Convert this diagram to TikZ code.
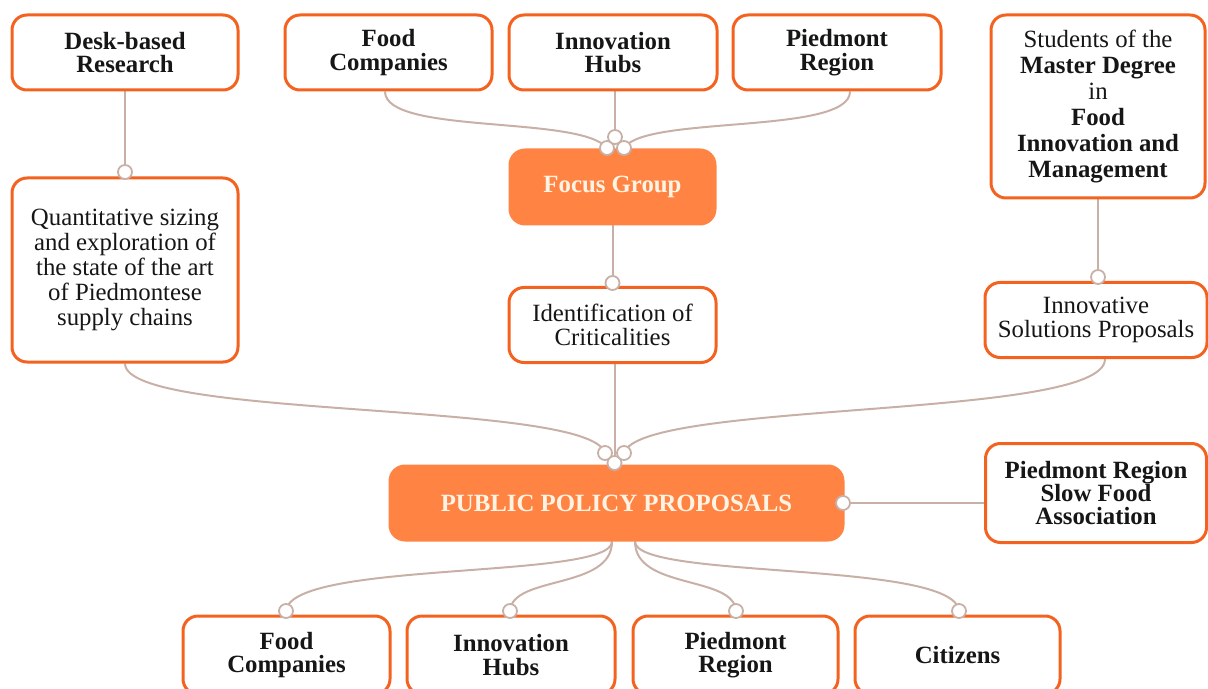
\documentclass[tikz,border=0pt]{standalone}
\usepackage{fontspec}
\setmainfont{Liberation Serif}
\usetikzlibrary{backgrounds}
\definecolor{borderor}{HTML}{F4621F}
\definecolor{fillor}{HTML}{FF8444}
\definecolor{linktan}{HTML}{C8B0A7}
\definecolor{txtlight}{HTML}{FFF4E4}
\definecolor{txtdark}{HTML}{161616}
\tikzset{
  box/.style={draw=borderor, line width=1.5pt, fill=white, rounded corners=7.5pt,
    align=center, inner sep=2pt, text=txtdark,
    font=\fontsize{12.4}{11.8}\selectfont},
  boldbox/.style={box, font=\fontsize{12.4}{11.8}\selectfont\bfseries},
  filledbox/.style={box, draw=fillor, fill=fillor, text=txtlight,
    font=\fontsize{12.4}{11.8}\selectfont\bfseries},
  knob/.style={circle, draw=linktan, line width=0.9pt, fill=white,
    minimum size=7pt, inner sep=0pt},
  link/.style={draw=linktan, line width=1pt}
}
\begin{document}
\begin{tikzpicture}[x=0.5pt, y=-0.5pt]
\useasboundingbox (0,0) rectangle (1208,689);
% boxes
\node[boldbox, minimum width=113pt, minimum height=37.5pt] (desk) at (125,52.5) {Desk-based\\Research};
\node[boldbox, minimum width=103.5pt, minimum height=37.5pt] (fc1) at (388.5,52.5) {Food\\Companies};
\node[boldbox, minimum width=104pt, minimum height=37.5pt] (ih1) at (613,52.5) {Innovation\\Hubs};
\node[boldbox, minimum width=104pt, minimum height=37.5pt] (pr1) at (837,52.5) {Piedmont\\Region};
\node[box, minimum width=107pt, minimum height=91.5pt, font=\fontsize{12.4}{13}\selectfont] (stud) at (1098,106.5)
  {Students of the\\\textbf{Master Degree}\\in\\\textbf{Food}\\\textbf{Innovation and}\\\textbf{Management}};
\node[filledbox, minimum width=102.5pt, minimum height=37pt] (focus) at (612.5,187) {Focus Group};
\node[box, minimum width=113pt, minimum height=92pt, font=\fontsize{12.4}{12.6}\selectfont] (quant) at (125,270)
  {Quantitative sizing\\and exploration of\\the state of the art\\of Piedmontese\\supply chains};
\node[box, minimum width=103.5pt, minimum height=37.5pt] (ident) at (612.5,325) {Identification of\\Criticalities};
\node[box, minimum width=111pt, minimum height=37.5pt] (innov) at (1096,320) {Innovative\\Solutions Proposals};
\node[filledbox, minimum width=226.5pt, minimum height=37pt] (ppp) at (616.5,503) {PUBLIC POLICY PROPOSALS};
\node[boldbox, minimum width=110.5pt, minimum height=49.5pt, font=\fontsize{12.4}{11.6}\selectfont\bfseries] (slow) at (1096,493)
  {Piedmont Region\\Slow Food\\Association};
\node[boldbox, minimum width=103.5pt, minimum height=39pt] (fc2) at (286.5,655) {Food\\Companies};
\node[boldbox, minimum width=104pt, minimum height=39pt] (ih2) at (511,655) {Innovation\\Hubs};
\node[boldbox, minimum width=102.5pt, minimum height=39pt] (pr2) at (735.5,655) {Piedmont\\Region};
\node[boldbox, minimum width=102.5pt, minimum height=39pt] (cit) at (957.5,655) {Citizens};
% knobs
\node[knob] (kquant) at (125,172) {};
\node[knob] (kfg1) at (607,148) {};
\node[knob] (kfg2) at (615,137) {};
\node[knob] (kfg3) at (624,148) {};
\node[knob] (kident) at (612.5,283) {};
\node[knob] (kinnov) at (1098,277) {};
\node[knob] (kppp1) at (605,453) {};
\node[knob] (kppp2) at (614.5,463) {};
\node[knob] (kppp3) at (624,453) {};
\node[knob] (kslow) at (843,503) {};
\node[knob] (kb1) at (286,611) {};
\node[knob] (kb2) at (510,611) {};
\node[knob] (kb3) at (736,611) {};
\node[knob] (kb4) at (959,611) {};
% connectors
\begin{scope}[on background layer]
\draw[link] (desk.south) -- (kquant.center);
\draw[link] ([xshift=-1.75pt]fc1.south) .. controls (385,135) and (580,115) .. (kfg1.center);
\draw[link] (kfg2 |- ih1.south) -- (kfg2.center);
\draw[link] ([xshift=6.5pt]pr1.south) .. controls (850,135) and (645,115) .. (kfg3.center);
\draw[link] (focus.south) -- (kident.center);
\draw[link] (stud.south) -- (kinnov.center);
\draw[link] (quant.south) .. controls (125,420) and (590,400) .. (kppp1.center);
\draw[link] (kppp2 |- ident.south) -- (kppp2.center);
\draw[link] ([xshift=4.5pt]innov.south) .. controls (1105,420) and (640,400) .. (kppp3.center);
\draw[link] (kslow -| slow.west) -- (kslow.center);
\draw[link] ([xshift=-2.25pt]ppp.south) .. controls (612,580) and (290,560) .. (kb1.center);
\draw[link] ([xshift=-2.25pt]ppp.south) .. controls (612,590) and (512,575) .. (kb2.center);
\draw[link] ([xshift=9.25pt]ppp.south) .. controls (635,590) and (734,575) .. (kb3.center);
\draw[link] ([xshift=9.25pt]ppp.south) .. controls (635,580) and (955,560) .. (kb4.center);
\end{scope}
\end{tikzpicture}
\end{document}
